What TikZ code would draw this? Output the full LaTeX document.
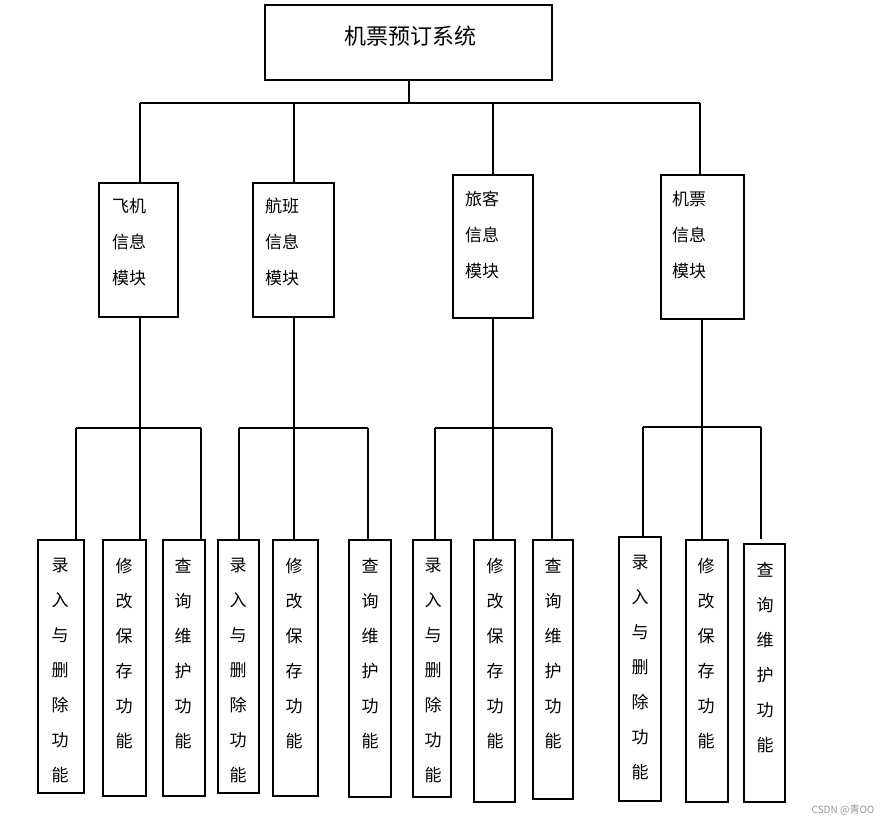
\documentclass[tikz,border=0pt]{standalone}
\usepackage{fontspec}
\newfontfamily\cjk{Noto Sans CJK SC}
\definecolor{wmgray}{RGB}{150,150,150}
\newcommand\mybox[5]{\node[box, minimum width={(#4-#2)*1pt}, minimum height={(#5-#3)*1pt}] (#1) at ({(#2+#4)/2},{(#3+#5)/2}) {};}
\begin{document}
\begin{tikzpicture}[x=1pt,y=-1pt,
  box/.style={draw, line width=2pt, inner sep=0pt, outer sep=0pt},
  conn/.style={line width=2pt},
  leaftext/.style={font=\cjk\fontsize{17}{35}\selectfont, align=center, inner sep=0pt, anchor=north},
  modtext/.style={font=\cjk\fontsize{17}{36}\selectfont, align=left, inner sep=0pt, anchor=north west},
  toptext/.style={font=\cjk\fontsize{22}{26}\selectfont, inner sep=0pt}]
\useasboundingbox[fill=white] (0,0) rectangle (891,826);

% top
\mybox{top}{265}{5}{552}{80}
\node[toptext] (toptitle) at (410,36) {机票预订系统};

% modules
\mybox{m1}{99}{183}{178}{317}
\mybox{m2}{253}{183}{334}{317}
\mybox{m3}{453}{175}{533}{318}
\mybox{m4}{661}{175}{744}{319}
\node[modtext] (t-m1) at (112,198) {飞机\\信息\\模块};
\node[modtext] (t-m2) at (265,198) {航班\\信息\\模块};
\node[modtext] (t-m3) at (465,191) {旅客\\信息\\模块};
\node[modtext] (t-m4) at (672,191) {机票\\信息\\模块};

% leaves
\mybox{l1}{38}{540}{84}{793}
\mybox{l2}{103}{540}{146}{796}
\mybox{l3}{163}{540}{205}{796}
\mybox{l4}{218}{540}{259}{793}
\mybox{l5}{273}{540}{318}{796}
\mybox{l6}{349}{540}{391}{797}
\mybox{l7}{413}{540}{451}{797}
\mybox{l8}{474}{540}{515}{802}
\mybox{l9}{533}{540}{573}{799}
\mybox{l10}{619}{537}{661}{801}
\mybox{l11}{686}{540}{728}{802}
\mybox{l12}{744}{544}{785}{802}

\node[leaftext] (t-l1) at (60,558) {录\\入\\与\\删\\除\\功\\能};
\node[leaftext] (t-l2) at (124,558) {修\\改\\保\\存\\功\\能};
\node[leaftext] (t-l3) at (183,558) {查\\询\\维\\护\\功\\能};
\node[leaftext] (t-l4) at (238,558) {录\\入\\与\\删\\除\\功\\能};
\node[leaftext] (t-l5) at (294,558) {修\\改\\保\\存\\功\\能};
\node[leaftext] (t-l6) at (370,558) {查\\询\\维\\护\\功\\能};
\node[leaftext] (t-l7) at (433,558) {录\\入\\与\\删\\除\\功\\能};
\node[leaftext] (t-l8) at (495,558) {修\\改\\保\\存\\功\\能};
\node[leaftext] (t-l9) at (553,558) {查\\询\\维\\护\\功\\能};
\node[leaftext] (t-l10) at (640,555) {录\\入\\与\\删\\除\\功\\能};
\node[leaftext] (t-l11) at (706,558) {修\\改\\保\\存\\功\\能};
\node[leaftext] (t-l12) at (765,562) {查\\询\\维\\护\\功\\能};

% top bus
\coordinate (bL) at (140,103);
\coordinate (bR) at (700,103);
\draw[conn] (top.south) -- (top.south |- bL);
\draw[conn] (bL) -- (bR);
\draw[conn] (bL) -- (bL |- m1.north);
\draw[conn] (m2.north |- bL) -- (m2.north);
\draw[conn] (m3.north |- bL) -- (m3.north);
\draw[conn] (bR) -- (bR |- m4.north);

% branch coordinates
\coordinate (g1a) at (76,428);  \coordinate (g1b) at (140,428); \coordinate (g1c) at (201,428);
\coordinate (g2a) at (239,428); \coordinate (g2b) at (293.5,428); \coordinate (g2c) at (368,428);
\coordinate (g3a) at (435,428); \coordinate (g3b) at (493,428); \coordinate (g3c) at (552,428);
\coordinate (g4a) at (643,427); \coordinate (g4b) at (702,427); \coordinate (g4c) at (761,427);
\coordinate (g4end) at (761,539);

\draw[conn] (g1b |- m1.south) -- (g1b);
\draw[conn] (m2.south) -- (g2b);
\draw[conn] (m3.south) -- (g3b);
\draw[conn] (g4b |- m4.south) -- (g4b);
\draw[conn] (g1a) -- (g1c);
\draw[conn] (g2a) -- (g2c);
\draw[conn] (g3a) -- (g3c);
\draw[conn] (g4a) -- (g4c);

\draw[conn] (g1a) -- (g1a |- l1.north);
\draw[conn] (g1b) -- (g1b |- l2.north);
\draw[conn] (g1c) -- (g1c |- l3.north);
\draw[conn] (g2a) -- (g2a |- l4.north);
\draw[conn] (g2b) -- (g2b |- l5.north);
\draw[conn] (g2c) -- (g2c |- l6.north);
\draw[conn] (g3a) -- (g3a |- l7.north);
\draw[conn] (g3b) -- (g3b |- l8.north);
\draw[conn] (g3c) -- (g3c |- l9.north);
\draw[conn] (g4a) -- (g4a |- l10.north);
\draw[conn] (g4b) -- (g4b |- l11.north);
\draw[conn] (g4c) -- (g4end);

% watermark
\node[font=\cjk\fontsize{10}{12}\selectfont, text=wmgray, inner sep=0pt] (wm) at (843,810) {CSDN @青OO};
\end{tikzpicture}
\end{document}
